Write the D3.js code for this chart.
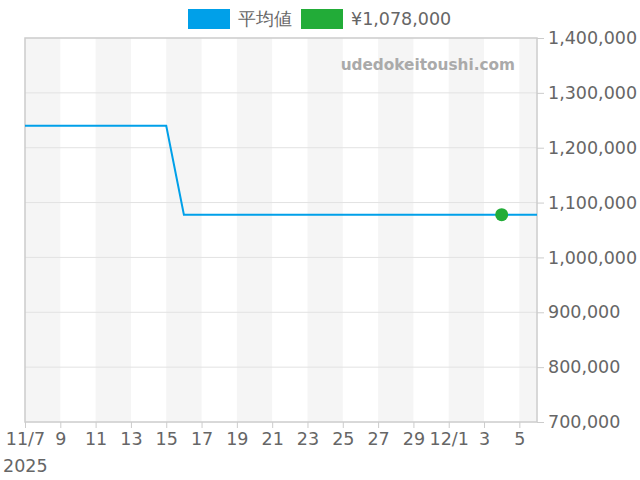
<!DOCTYPE html>
<html>
<head>
<meta charset="utf-8">
<script src="https://cdn.jsdelivr.net/npm/d3@7"></script>
<style>
  body { margin: 0; background: #fff; }
  text { font-family: "DejaVu Sans", sans-serif; }
</style>
</head>
<body>
<script>
// daily average price, 11/7 .. 12/6
const dates = ["2025-11-07","2025-11-08","2025-11-09","2025-11-10","2025-11-11","2025-11-12",
  "2025-11-13","2025-11-14","2025-11-15","2025-11-16","2025-11-17","2025-11-18","2025-11-19",
  "2025-11-20","2025-11-21","2025-11-22","2025-11-23","2025-11-24","2025-11-25","2025-11-26",
  "2025-11-27","2025-11-28","2025-11-29","2025-11-30","2025-12-01","2025-12-02","2025-12-03",
  "2025-12-04","2025-12-05","2025-12-06"];
const avgPrice = [1240000,1240000,1240000,1240000,1240000,1240000,1240000,1240000,1240000,
  1078000,1078000,1078000,1078000,1078000,1078000,1078000,1078000,1078000,1078000,1078000,
  1078000,1078000,1078000,1078000,1078000,1078000,1078000,1078000,1078000,1078000];
const currentDate = "2025-12-04";
const currentPrice = 1078000;
const yTicks = [700000,800000,900000,1000000,1100000,1200000,1300000,1400000];
const legendLabels = ["平均値", "¥1,078,000"];

const W = 640, H = 480;
const m = {left: 25, right: 103, top: 38, bottom: 58};
const parse = d3.timeParse("%Y-%m-%d");
const data = dates.map((d, i) => ({date: parse(d), v: avgPrice[i]}));
const start = parse("2025-11-07"), end = parse("2025-12-06");

const svg = d3.select("body").append("svg").attr("width", W).attr("height", H);

const x = d3.scaleTime()
    .domain([start, end])
    .range([m.left, W - m.right]);
const y = d3.scaleLinear()
    .domain([700000, 1400000])
    .range([H - m.bottom, m.top]);

// alternating 2-day bands
const bandStarts = d3.timeDay.every(2).range(start, end)
    .filter((d, i) => i % 2 === 0);
svg.append("g").selectAll("rect")
    .data(bandStarts)
    .enter().append("rect")
    .attr("x", d => x(d))
    .attr("y", m.top)
    .attr("width", d => Math.min(x(d3.timeDay.offset(d, 2)), W - m.right) - x(d))
    .attr("height", H - m.bottom - m.top)
    .style("fill", "#f5f5f5");

// grid
svg.append("g").selectAll("line")
    .data(yTicks.slice(1, -1))
    .enter().append("line")
    .attr("x1", m.left).attr("x2", W - m.right)
    .attr("y1", d => y(d)).attr("y2", d => y(d))
    .style("stroke", "#e2e2e2");

// y axis on the right
const yAxis = svg.append("g")
    .attr("transform", `translate(${W - m.right},0)`)
    .call(d3.axisRight(y).tickValues(yTicks).tickSize(7).tickPadding(4)
        .tickFormat(d3.format(",")));
yAxis.select(".domain").remove();
yAxis.selectAll("line").style("stroke", "#ccc");
yAxis.selectAll("text").style("fill", "#666").style("font-size", "17.5px");

// x axis
const xAxis = svg.append("g")
    .attr("transform", `translate(0,${H - m.bottom})`)
    .call(d3.axisBottom(x)
        .tickValues(d3.range(0, 30, 2).map(k => d3.timeDay.offset(start, k)))
        .tickSize(6).tickPadding(5)
        .tickFormat(d => (+d === +start) || d.getDate() === 1
            ? d3.timeFormat("%-m/%-d")(d) : d3.timeFormat("%-d")(d)));
xAxis.select(".domain").remove();
xAxis.selectAll("line").style("stroke", "#ccc");
xAxis.selectAll("text").style("fill", "#666").style("font-size", "17.5px");
svg.append("text")
    .attr("x", 3).attr("y", 472)
    .style("fill", "#666").style("font-size", "17.5px")
    .text("2025");

// frame
svg.append("rect")
    .attr("x", m.left).attr("y", m.top)
    .attr("width", W - m.right - m.left).attr("height", H - m.bottom - m.top)
    .style("fill", "none").style("stroke", "#ccc").style("stroke-width", 1.5);

// watermark
svg.append("text")
    .attr("x", 515).attr("y", 70)
    .attr("text-anchor", "end")
    .style("fill", "#aaa").style("font-size", "15.3px").style("font-weight", "bold")
    .text("udedokeitoushi.com");

// average line
svg.append("path")
    .datum(data)
    .attr("d", d3.line().x(d => x(d.date)).y(d => y(d.v)))
    .style("fill", "none").style("stroke", "#00a0e9").style("stroke-width", 2);

// current price
svg.append("circle")
    .attr("cx", x(parse(currentDate))).attr("cy", y(currentPrice))
    .attr("r", 6.5)
    .style("fill", "#22ac38");

// legend
const legendColors = ["#00a0e9", "#22ac38"];
const legendX = [188, 301];
const lg = svg.append("g");
legendLabels.forEach((t, i) => {
    lg.append("rect")
        .attr("x", legendX[i]).attr("y", 9).attr("width", 42).attr("height", 20)
        .style("fill", legendColors[i]);
    lg.append("text")
        .attr("x", legendX[i] + 50).attr("y", 25)
        .style("fill", "#666").style("font-size", "17.5px")
        .text(t);
});
</script>
</body>
</html>
